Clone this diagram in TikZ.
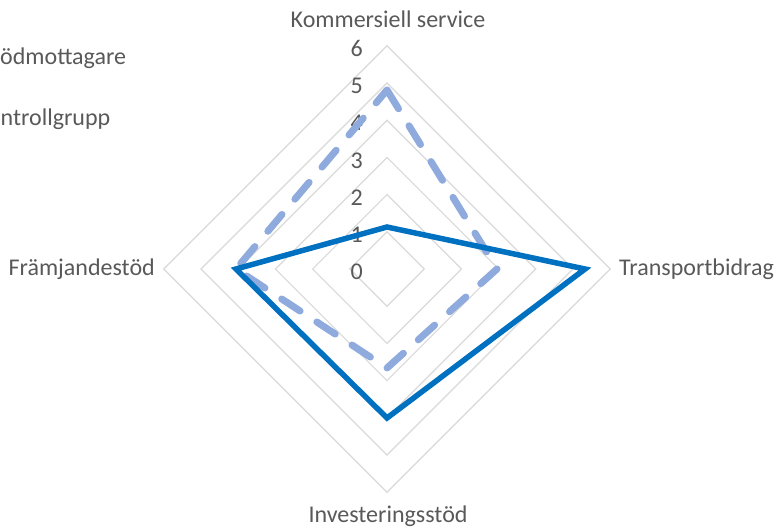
\documentclass[tikz,border=0pt]{standalone}
\usepackage{fontspec}
\setmainfont{Carlito}
\definecolor{txt}{HTML}{595959}
\definecolor{gridc}{HTML}{D9D9D9}
\definecolor{serA}{HTML}{0070C0}
\definecolor{serB}{HTML}{8FAADC}
\begin{document}
\begin{tikzpicture}[x=1pt,y=-1pt,
  lbl/.style={inner sep=0pt,text=txt,font=\fontsize{24}{28}\selectfont},
  ring/.style={draw=gridc,line width=1.2pt},
  solidser/.style={draw=serA,line width=5.5pt,line join=miter},
  dashser/.style={draw=serB,line width=7pt,line cap=round,line join=round,dash pattern=on 22pt off 20pt}]
\useasboundingbox (0,0) rectangle (779,527);
\clip (0,0) rectangle (779,527);
\coordinate (c) at (387,269);
% grid rings
\foreach \r in {1,...,6}{
  \draw[ring] (387,269-37.2*\r) -- (387+37.2*\r,269) -- (387,269+37.2*\r) -- (387-37.2*\r,269) -- cycle;
}
% axis numbers
\foreach \r in {0,...,6}{
  \node[lbl,anchor=east] (n\r) at (363,272-37.2*\r) {\r};
}
% axis labels
\node[lbl,anchor=base] (kom) at (388,28) {Kommersiell service};
\node[lbl,anchor=base west] (tra) at (619,275) {Transportbidrag};
\node[lbl,anchor=base] (inv) at (388,522) {Investeringsstöd};
\node[lbl,anchor=base east] (fra) at (155,275) {Främjandestöd};
% legend (as it shows at the left edge)
\node[lbl,anchor=base west] (legA) at (0,64) {ödmottagare};
\node[lbl,anchor=base west] (legB) at (0.5,125) {ntrollgrupp};
% data points
\coordinate (sK) at (387,227);
\coordinate (sT) at (585,269);
\coordinate (sI) at (387,418);
\coordinate (sF) at (236,269);
\coordinate (dK) at (387,90);
\coordinate (dT) at (497,269);
\coordinate (dI) at (387,368);
\coordinate (dF) at (236,269);
\draw[dashser] (dK) -- (dT) -- (dI) -- (dF) -- cycle;
\draw[solidser] (sK) -- (sT) -- (sI) -- (sF) -- cycle;
\end{tikzpicture}
\end{document}
